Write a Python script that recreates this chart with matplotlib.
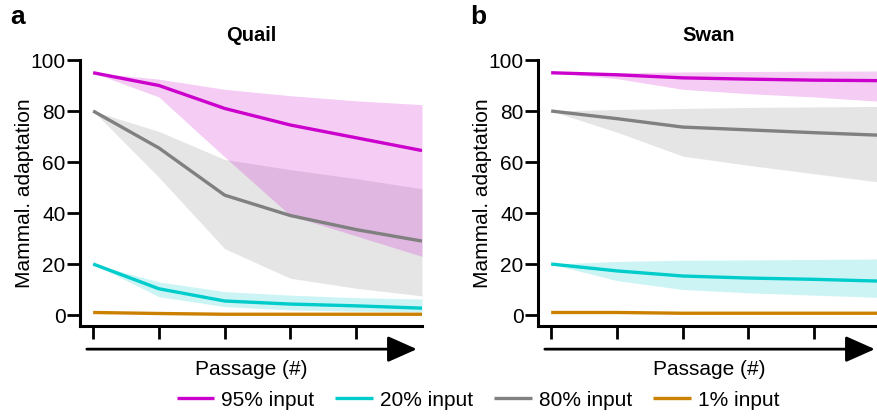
import matplotlib
matplotlib.use("Agg")
import matplotlib.pyplot as plt

plt.rcParams['font.family'] = ['Liberation Sans', 'DejaVu Sans']

passage = [0, 1, 2, 3, 4, 5]
x_ticks = [0, 1, 2, 3, 4]
y_ticks = [0, 20, 40, 60, 80, 100]

series_names = ['95% input', '20% input', '80% input', '1% input']
colors = {'95% input': '#CC00CC', '20% input': '#00CCCC',
          '80% input': '#808080', '1% input': '#CC8000'}

# quail: mean, lower, upper
quail_mean = {
    '95% input': [95, 90, 81, 74.5, 69.5, 64.5],
    '20% input': [20, 10.3, 5.5, 4.3, 3.6, 2.7],
    '80% input': [80, 65.5, 47, 39, 33.5, 29],
    '1% input': [1.0, 0.6, 0.3, 0.3, 0.3, 0.3],
}
quail_low = {
    '95% input': [95, 85.5, 62, 39, 31, 23],
    '20% input': [20, 7.2, 3.3, 2.0, 1.5, 1.2],
    '80% input': [80, 54, 26, 14.4, 10.5, 7.5],
    '1% input': [1.0, 0.6, 0.3, 0.3, 0.3, 0.3],
}
quail_high = {
    '95% input': [95, 92.5, 88.5, 86, 84, 82.5],
    '20% input': [20, 13, 9.2, 7.8, 6.8, 6.3],
    '80% input': [80, 72, 61, 57, 53.5, 49.5],
    '1% input': [1.0, 0.6, 0.3, 0.3, 0.3, 0.3],
}

swan_mean = {
    '95% input': [95, 94.2, 93, 92.5, 92.1, 91.9],
    '20% input': [20, 17.3, 15.3, 14.5, 14, 13.3],
    '80% input': [80, 77, 73.7, 72.6, 71.5, 70.5],
    '1% input': [1.0, 1.0, 0.7, 0.7, 0.7, 0.7],
}
swan_low = {
    '95% input': [95, 92.7, 88.5, 86.8, 85.5, 83.8],
    '20% input': [20, 13.5, 10, 8.7, 7.8, 6.9],
    '80% input': [80, 71.7, 62.3, 58.7, 55.4, 52.1],
    '1% input': [1.0, 1.0, 0.7, 0.7, 0.7, 0.7],
}
swan_high = {
    '95% input': [95, 95, 95.3, 95.5, 95.6, 95.7],
    '20% input': [20, 21, 21.5, 21.6, 21.8, 22],
    '80% input': [80, 80.6, 81, 81.4, 81.6, 81.8],
    '1% input': [1.0, 1.0, 0.7, 0.7, 0.7, 0.7],
}

draw_order = ['80% input', '95% input', '20% input', '1% input']

fig = plt.figure(figsize=(8.77, 4.16), dpi=100)
ax1 = fig.add_axes([80 / 877, 90 / 416, 342 / 877, 266 / 416])
ax2 = fig.add_axes([538 / 877, 90 / 416, 342 / 877, 266 / 416])

fs = 15
handles = {}
for ax, title, mean, low, high, letter in [
        (ax1, 'Quail', quail_mean, quail_low, quail_high, 'a'),
        (ax2, 'Swan', swan_mean, swan_low, swan_high, 'b')]:
    for name in draw_order:
        c = colors[name]
        ax.fill_between(passage, low[name], high[name], color=c, alpha=0.2, lw=0)
        ln, = ax.plot(passage, mean[name], color=c, lw=2.4, solid_capstyle='butt')
        handles[name] = ln
    ax.set_xlim(-0.2, 5)
    ax.set_ylim(-4.3, 100)
    ax.set_xticks(x_ticks)
    ax.set_xticklabels([])
    ax.set_yticks(y_ticks)
    ax.tick_params(axis='y', labelsize=fs, length=9.5, width=2, pad=1)
    ax.tick_params(axis='x', length=9, width=2)
    for s in ['top', 'right']:
        ax.spines[s].set_visible(False)
    ax.spines['left'].set_linewidth(2.2)
    ax.spines['bottom'].set_linewidth(2.2)
    ax.spines['left'].set_bounds(-4.3, 100)
    ax.set_title(title, fontsize=14.5, fontweight='bold', pad=14)
    ax.set_ylabel('Mammal. adaptation', fontsize=fs, labelpad=-3)
    ax.set_xlabel('Passage (#)', fontsize=fs, labelpad=12)
    ax.annotate('', xy=(0.985, -0.087), xytext=(0.02, -0.087),
                xycoords='axes fraction', textcoords='axes fraction',
                annotation_clip=False,
                arrowprops=dict(arrowstyle='-|>,head_length=0.9,head_width=0.4',
                                lw=2, color='black', mutation_scale=20,
                                shrinkA=0, shrinkB=0))

fig.text(18 / 877, 1 - 17 / 416, 'a', fontsize=19, fontweight='bold', ha='center', va='center')
fig.text(478 / 877, 1 - 17 / 416, 'b', fontsize=19, fontweight='bold', ha='center', va='center')

fig.legend([handles[n] for n in series_names], series_names,
           loc='center', bbox_to_anchor=(478 / 877, 16 / 416), ncol=4, frameon=False,
           fontsize=fs, handlelength=1.8, handletextpad=0.35, columnspacing=1.0,
           borderaxespad=0, borderpad=0)

fig.savefig('out.png', dpi=100)
